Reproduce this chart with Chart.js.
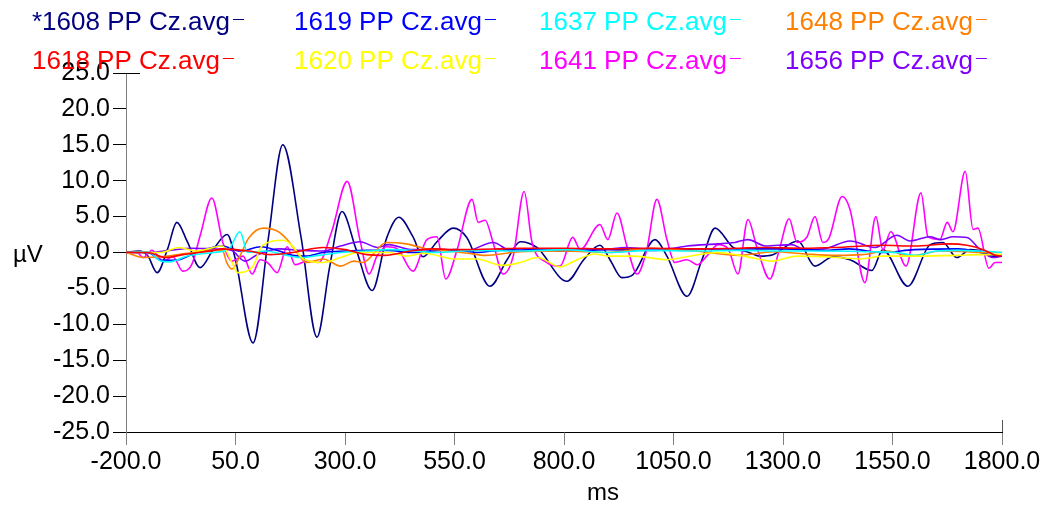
<!DOCTYPE html>
<html>
<head>
<meta charset="utf-8">
<title>PP Cz averages</title>
<script src="https://cdn.jsdelivr.net/npm/chart.js@4.4.1/dist/chart.umd.min.js"></script>
<style>
  body { margin: 0; background: #fff; }
</style>
</head>
<body>
<canvas id="myChart" width="1052" height="508"></canvas>
<script>
// axis ranges (ms, uV)
const xMin = -200, xMax = 1800, xStep = 250;
const yMin = -25, yMax = 25, yStep = 5;

// legend labels, in legend order (2 rows of 4)
const seriesNames = ['*1608 PP Cz.avg', '1619 PP Cz.avg', '1637 PP Cz.avg', '1648 PP Cz.avg',
                     '1618 PP Cz.avg', '1620 PP Cz.avg', '1641 PP Cz.avg', '1656 PP Cz.avg'];

// waveforms: time (ms) and amplitude (uV)
const t1608 = [-200, -170, -150, -129, -105, -84, -60, -31, 0, 31, 50, 90, 125, 158, 200, 236, 265, 293, 325, 362, 395, 423, 455, 478, 510, 547, 578, 631, 670, 700, 738, 807, 845, 882, 905, 932, 957, 1008, 1035, 1081, 1115, 1145, 1186, 1218, 1247, 1277, 1334, 1373, 1414, 1453, 1503, 1528, 1585, 1636, 1665, 1697, 1727, 1757, 1780, 1800];
const v1608 = [0, 0.2, -0.5, -2.8, 0.5, 4.2, 1.5, -2.1, 0.5, 2.5, -1.0, -12.6, 2.0, 15.0, 2.0, -11.8, -2.0, 5.7, 0.5, -5.3, 2.0, 4.9, 2.2, -0.6, 1.5, 3.4, 2.1, -4.7, -1.0, 1.5, 0.7, -4.0, -1.0, 1.0, -1.0, -3.5, -3.1, 1.8, -0.5, -6.1, -1.0, 3.4, 0.7, 0.1, -0.5, -0.3, 1.6, -1.9, -0.6, -1.0, -2.5, 0.4, -4.7, 1.1, 1.4, -0.7, 0.4, 0.1, -0.6, -0.3];

const t1641 = [-200, -175, -161, -141, -115, -93, -70, -50, -30, -4, 21, 42, 67, 88, 106, 125, 145, 168, 186, 213, 240, 270, 305, 334, 355, 373, 395, 420, 455, 487, 510, 530, 556, 590, 604, 620, 638, 661, 684, 709, 727, 761, 791, 820, 837, 882, 900, 921, 944, 967, 989, 1012, 1035, 1053, 1081, 1104, 1126, 1152, 1175, 1197, 1220, 1240, 1270, 1292, 1314, 1332, 1355, 1373, 1391, 1405, 1435, 1453, 1487, 1512, 1528, 1546, 1581, 1615, 1631, 1658, 1675, 1688, 1716, 1734, 1745, 1770, 1784, 1800];
const v1641 = [0, 0, -0.7, 0.3, -1.2, -0.6, -2.6, -1.7, 2.5, 7.6, 1.4, -1.2, -0.5, -3.0, -1.0, -1.5, -2.8, 0.8, -1.7, -1.2, -1.4, 3.0, 9.9, 1.8, -3.0, -0.5, 0.8, 0.5, -2.6, 1.8, 2.2, -3.7, 0.4, 7.4, 4.2, 4.5, 1.4, -3.0, -0.5, 8.5, 1.4, -1.4, -1.9, 2.1, 0.4, 3.9, 1.8, 5.5, 0.8, -3.0, 0.4, 7.4, 1.8, -1.4, -1.0, -1.7, -0.5, 1.1, 0.5, -3.0, 4.6, 0.8, -3.7, 0.5, 4.7, 1.4, 2.2, 5.0, 1.4, 2.0, 7.8, 6.0, -4.2, 5.0, 0.4, 2.9, -1.9, 8.3, 2.2, 1.8, 4.2, 2.9, 11.3, 3.2, 3.4, -2.2, -1.4, -1.4];

const t1656 = [-200, -150, -100, -50, 0, 40, 72, 100, 150, 200, 250, 290, 334, 375, 400, 450, 520, 580, 638, 680, 720, 790, 850, 900, 940, 1000, 1050, 1081, 1150, 1190, 1220, 1260, 1320, 1350, 1400, 1453, 1510, 1560, 1590, 1636, 1660, 1688, 1720, 1750, 1780, 1800];
const v1656 = [0, 0, 0.3, 0.6, 0.5, 0.3, -1.2, -0.3, 0.5, 0.3, 0.2, 0.9, 1.5, 0.7, 1.1, 0.4, 0.4, 0.3, 1.4, 0.2, 0.3, 0.5, 0.5, 0.5, 0.7, 0.5, 0.6, 0.9, 1.2, 1.4, 1.8, 0.9, 1.1, 0.4, 0.6, 1.6, 0.7, 2.4, 1.6, 2.2, 1.8, 2.2, 2.1, 0.4, -0.7, -0.5];

const t1619 = [-200, -150, -120, -80, -40, 20, 60, 108, 150, 180, 210, 250, 300, 350, 400, 450, 500, 550, 600, 650, 700, 800, 900, 1000, 1100, 1200, 1300, 1400, 1450, 1528, 1600, 1700, 1750, 1780, 1800];
const v1619 = [0, 0, -1.1, -1.0, 0, 0.9, 0.2, 0.8, 0.2, -0.4, -0.5, 0, 0.2, 0.3, 0.3, 0, 0.2, 0.4, 0, 0.3, 0.5, 0.2, 0.4, 0.3, 0.5, 0.5, 0.5, 0.3, 0.5, 0, 0.4, 0.5, 0, -0.4, -0.5];

const t1637 = [-200, -150, -120, -100, -60, 0, 35, 60, 78, 120, 160, 200, 240, 290, 350, 400, 450, 500, 600, 700, 800, 900, 1000, 1100, 1200, 1300, 1400, 1500, 1560, 1600, 1650, 1700, 1750, 1800];
const v1637 = [0, 0.1, -1.2, -1.3, -0.5, 0, 0.5, 2.9, 0, 0.2, -0.3, -0.7, -0.4, 0, 0.2, 0.4, 0.3, 0, 0.3, 0.2, 0.4, 0, 0.3, 0.2, 0.3, 0.2, 0.2, 0.1, 0, -0.4, 0.2, 0.3, 0.2, 0];

const t1648 = [-200, -160, -120, -60, 0, 20, 30, 42, 60, 80, 113, 145, 168, 190, 212, 250, 290, 320, 340, 395, 440, 480, 520, 580, 620, 700, 800, 900, 1000, 1100, 1200, 1280, 1350, 1420, 1480, 1540, 1590, 1660, 1720, 1760, 1800];
const v1648 = [0, -0.7, -0.6, -0.1, 0.3, 0.3, -1.4, -2.3, -0.5, 2.0, 3.4, 3.0, 1.8, 0, -1.4, -0.9, -1.9, -1.2, -1.4, 1.4, 1.2, 0.6, 0.3, -0.1, -0.4, 0.1, 0.2, 0, 0.6, 0.2, -0.4, 0.1, -0.2, -0.4, -0.3, 0.2, -0.5, 0.2, 0.1, 0, 0];

const t1620 = [-200, -120, -80, -40, 20, 42, 55, 90, 110, 160, 180, 205, 250, 290, 330, 400, 440, 480, 550, 600, 661, 700, 740, 791, 830, 870, 900, 960, 1035, 1080, 1150, 1210, 1277, 1330, 1400, 1475, 1530, 1600, 1700, 1750, 1800];
const v1620 = [0, 0, 0.7, 0.2, 0.9, -1.4, -2.8, -1.9, 0.9, 1.7, 0.9, -0.9, -1.4, -0.7, 0, 0, -0.5, -0.1, -0.9, -0.9, -1.8, -1.4, -0.7, -2.0, -1.0, -0.2, -0.5, -0.5, -1.0, -0.6, 0, -0.5, -1.2, -0.5, -0.6, -0.9, -0.5, -0.5, -0.4, -0.3, -0.3];

const t1618 = [-200, -150, -110, -70, 0, 20, 80, 130, 180, 250, 300, 350, 390, 450, 500, 560, 650, 700, 800, 900, 1000, 1100, 1200, 1250, 1350, 1420, 1528, 1600, 1680, 1720, 1757, 1785, 1800];
const v1618 = [0, 0, -0.7, -0.3, 0.3, 0.5, 0.2, -0.3, 0, 0.7, 0.4, -0.3, -0.4, 0.2, 0.5, 0.4, 0.5, 0.6, 0.6, 0.5, 0.6, 0.5, 0.6, 0.7, 0.6, 0.7, 1.0, 0.9, 1.2, 1.0, 0.4, -0.4, -0.5];

// colours per series name
const colorOf = {
    '*1608 PP Cz.avg': '#000080', '1619 PP Cz.avg': '#0000ff', '1637 PP Cz.avg': '#00ffff',
    '1648 PP Cz.avg': '#ff8000', '1618 PP Cz.avg': '#ff0000', '1620 PP Cz.avg': '#ffff00',
    '1641 PP Cz.avg': '#ff00ff', '1656 PP Cz.avg': '#8000ff'
};

function toPoints(t, v) {
    return t.map((x, i) => ({ x: x, y: v[i] }));
}

// drawing order: quiet traces first, the big ones on top
const drawList = [
    ['1618 PP Cz.avg', t1618, v1618],
    ['1620 PP Cz.avg', t1620, v1620],
    ['1637 PP Cz.avg', t1637, v1637],
    ['1648 PP Cz.avg', t1648, v1648],
    ['1619 PP Cz.avg', t1619, v1619],
    ['1656 PP Cz.avg', t1656, v1656],
    ['1641 PP Cz.avg', t1641, v1641],
    ['*1608 PP Cz.avg', t1608, v1608]
];

const FONT = '"Liberation Sans", Arial, sans-serif';

// legend with the line sample after the text, plus axis titles
const decorations = {
    id: 'decorations',
    afterDraw(chart) {
        const ctx = chart.ctx;
        const area = chart.chartArea;
        ctx.save();

        ctx.font = '26px ' + FONT;
        ctx.textBaseline = 'alphabetic';
        const colX = [32, 294, 539, 785];
        const rowY = [30, 69];
        seriesNames.forEach((name, i) => {
            const x = colX[i % 4];
            const y = rowY[Math.floor(i / 4)];
            const c = colorOf[name];
            ctx.fillStyle = c;
            ctx.fillText(name, x, y);
            const w = ctx.measureText(name).width;
            ctx.strokeStyle = c;
            ctx.lineWidth = 1;
            ctx.beginPath();
            ctx.moveTo(x + w + 3, y - 10.5);
            ctx.lineTo(x + w + 14, y - 10.5);
            ctx.stroke();
        });

        ctx.fillStyle = '#000';
        ctx.font = '24px ' + FONT;
        ctx.textAlign = 'left';
        ctx.fillText('\u00b5V', 13, 262);
        ctx.textAlign = 'center';
        ctx.fillText('ms', 603, 500);

        // small extra tick marks at the top-left and bottom-right corners
        ctx.strokeStyle = '#000';
        ctx.lineWidth = 1;
        ctx.beginPath();
        ctx.moveTo(Math.round(area.left), area.top + 0.5);
        ctx.lineTo(area.left + 14, area.top + 0.5);
        ctx.stroke();
        ctx.strokeStyle = '#555';
        ctx.beginPath();
        ctx.moveTo(Math.round(area.right) + 0.5, area.bottom - 12);
        ctx.lineTo(Math.round(area.right) + 0.5, area.bottom);
        ctx.stroke();
        ctx.restore();
    }
};

const ctx = document.getElementById('myChart');

new Chart(ctx, {
    type: 'line',
    data: {
        datasets: drawList.map(d => ({
            label: d[0],
            data: toPoints(d[1], d[2]),
            borderColor: colorOf[d[0]],
            backgroundColor: colorOf[d[0]],
            borderWidth: 1.6,
            pointRadius: 0,
            cubicInterpolationMode: 'monotone',
            fill: false
        }))
    },
    options: {
        responsive: false,
        animation: false,
        layout: { padding: { top: 73, right: 50, left: 0, bottom: 0 } },
        plugins: {
            legend: { display: false },
            tooltip: { enabled: false }
        },
        scales: {
            x: {
                type: 'linear',
                min: xMin,
                max: xMax,
                afterFit: scale => { scale.height = 76; },
                ticks: {
                    stepSize: xStep,
                    autoSkip: false,
                    maxRotation: 0,
                    padding: 2,
                    color: '#000',
                    font: { family: FONT, size: 25 },
                    callback: v => v.toFixed(1)
                },
                grid: { drawOnChartArea: false, tickLength: 13, color: '#808080' },
                border: { color: '#000' }
            },
            y: {
                min: yMin,
                max: yMax,
                afterFit: scale => { scale.width = 126; },
                ticks: {
                    stepSize: yStep,
                    padding: 3,
                    color: '#000',
                    font: { family: FONT, size: 25 },
                    callback: v => v.toFixed(1)
                },
                grid: { drawOnChartArea: false, tickLength: 13, color: '#000' },
                border: { color: '#808080' }
            }
        }
    },
    plugins: [decorations]
});
</script>
</body>
</html>
